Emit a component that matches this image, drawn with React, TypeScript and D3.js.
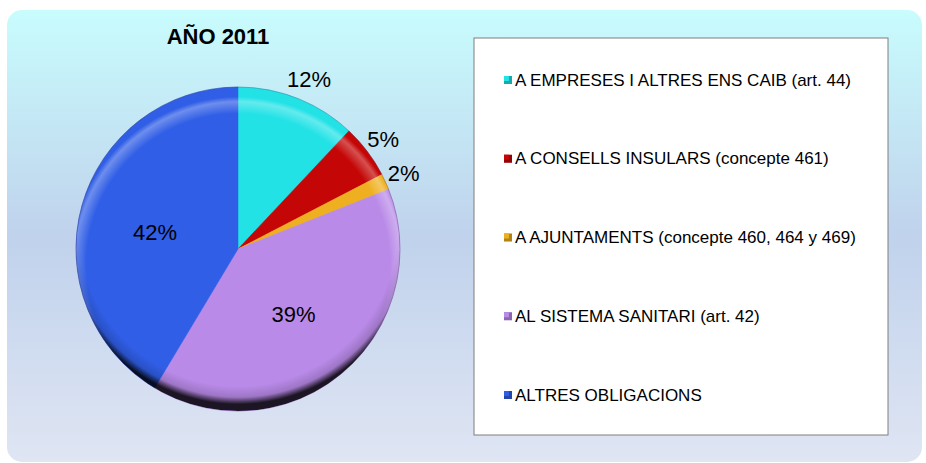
import React from "react";
import * as d3 from "d3";

const categories = [
  "A EMPRESES I ALTRES ENS CAIB (art. 44)",
  "A CONSELLS INSULARS (concepte 461)",
  "A AJUNTAMENTS (concepte 460, 464 y 469)",
  "AL SISTEMA SANITARI (art. 42)",
  "ALTRES OBLIGACIONS",
];
const values = [12.0, 5.4, 1.6, 39.6, 41.4];
const valueLabels = ["12%", "5%", "2%", "39%", "42%"];
const colors = ["#22e2e6", "#c40606", "#eeb020", "#b98ae8", "#305ee6"];
const title = "AÑO 2011";

const W = 926;
const H = 463;

export default function App() {
  const cx = 238;
  const cy = 249;
  const r = 162;
  const pie = d3.pie<number>().sort(null).value((d) => d)(values);
  const arc = d3.arc<d3.PieArcDatum<number>>().innerRadius(0).outerRadius(r);

  const labelPos = pie.map((p, i) => {
    const mid = (p.startAngle + p.endAngle) / 2;
    const inside = i >= 3;
    const rr = inside ? 86 : r + 20;
    const x = cx + Math.sin(mid) * rr + (i === 0 ? 4 : 0);
    const y = cy - Math.cos(mid) * rr + (i === 4 ? 6 : 0);
    return { x, y, inside };
  });

  const legendX = 474;
  const legendY = 38;
  const legendW = 414;
  const legendH = 397;
  const itemY = d3.scalePoint<number>().domain(d3.range(categories.length)).range([80, 395]);

  return (
    <svg width={W} height={H} style={{ position: "absolute", left: 0, top: 0 }}>
      <defs>
        <linearGradient id="bg" x1="0" y1="0" x2="0" y2="1">
          <stop offset="0" stopColor="#c8fcfd" />
          <stop offset="0.5" stopColor="#c0d2ec" />
          <stop offset="1" stopColor="#dfe5f3" />
        </linearGradient>
        <radialGradient id="shade" cx="0.5" cy="0.45" r="0.53">
          <stop offset="0.9" stopColor="#000" stopOpacity="0" />
          <stop offset="0.96" stopColor="#000" stopOpacity="0.15" />
          <stop offset="1" stopColor="#000" stopOpacity="0.85" />
        </radialGradient>
        <radialGradient id="hilite" cx="0.5" cy="0.55" r="0.52">
          <stop offset="0.9" stopColor="#fff" stopOpacity="0" />
          <stop offset="0.97" stopColor="#fff" stopOpacity="0.3" />
          <stop offset="1" stopColor="#fff" stopOpacity="0" />
        </radialGradient>
        <clipPath id="pieclip">
          <circle cx={cx} cy={cy} r={r} />
        </clipPath>
      </defs>
      <rect x={0} y={0} width={W} height={H} fill="#ffffff" />
      <rect x={7} y={10} width={915} height={452} rx={15} ry={15} fill="url(#bg)" />
      <text
        x={218}
        y={44}
        textAnchor="middle"
        fontFamily="Liberation Sans, Arial, sans-serif"
        fontWeight="bold"
        fontSize={22}
        fill="#000"
      >
        {title}
      </text>
      <g transform={`translate(${cx},${cy})`}>
        {pie.map((p, i) => (
          <path key={i} d={arc(p) || ""} fill={colors[i]} stroke={colors[i]} strokeWidth={0.5} />
        ))}
      </g>
      <g clipPath="url(#pieclip)">
        <circle cx={cx} cy={cy} r={r} fill="url(#hilite)" />
        <circle cx={cx} cy={cy - 6} r={r + 6} fill="url(#shade)" />
      </g>
      <circle cx={cx} cy={cy} r={r} fill="none" stroke="#2a1a40" strokeOpacity={0.3} strokeWidth={0.8} />
      {labelPos.map((l, i) => (
        <text
          key={i}
          x={l.x}
          y={l.y}
          textAnchor="middle"
          dominantBaseline="central"
          fontFamily="Liberation Sans, Arial, sans-serif"
          fontSize={22}
          fill="#000"
        >
          {valueLabels[i]}
        </text>
      ))}
      <rect
        x={legendX}
        y={legendY}
        width={legendW}
        height={legendH}
        fill="#ffffff"
        stroke="#7f7f7f"
        strokeWidth={1}
      />
      {categories.map((c, i) => {
        const y = itemY(i) as number;
        return (
          <g key={i}>
            <rect x={504} y={y - 4} width={8} height={8} fill={colors[i]} />
            <rect x={504} y={y - 4} width={8} height={8} fill="#000" fillOpacity={0.25} />
            <rect x={504} y={y - 4} width={5} height={5} fill={colors[i]} />
            <text
              x={515}
              y={y}
              dominantBaseline="central"
              fontFamily="Liberation Sans, Arial, sans-serif"
              fontSize={17}
              fill="#000"
            >
              {c}
            </text>
          </g>
        );
      })}
    </svg>
  );
}
